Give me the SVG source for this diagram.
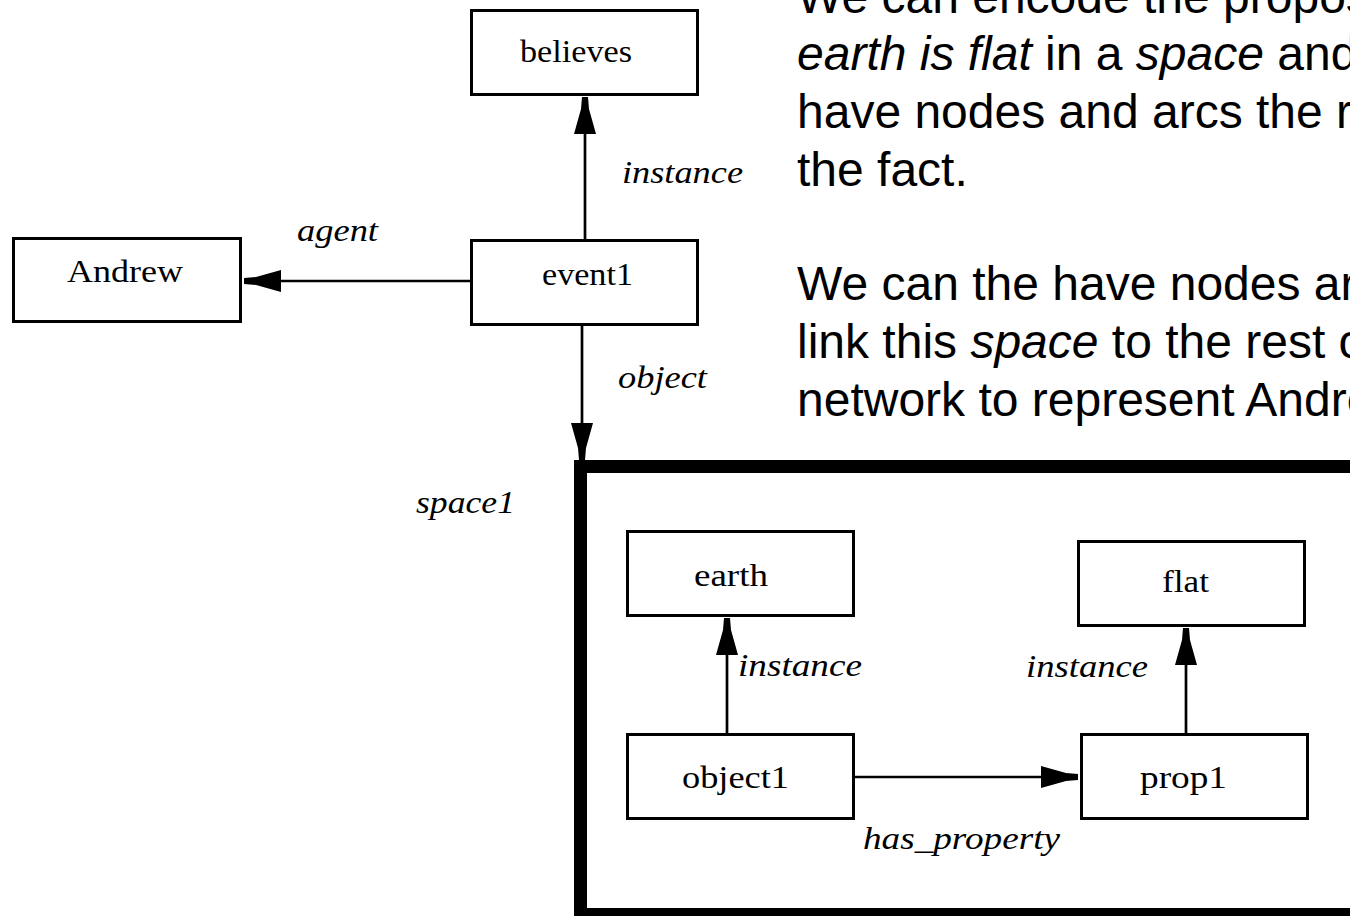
<svg xmlns="http://www.w3.org/2000/svg" width="1350" height="916" viewBox="0 0 1350 916">
<style>
  .box { fill: #fff; stroke: #000; stroke-width: 3; }
  .lbl { font-family: "Liberation Serif", "DejaVu Serif", serif; font-size: 31px; fill: #000; }
  .elbl { font-family: "Liberation Serif", "DejaVu Serif", serif; font-size: 31px; font-style: italic; fill: #000; }
  .conn { fill: none; stroke: #000; stroke-width: 2.7; marker-end: url(#head); }
  .prose { font-family: "Liberation Sans", Arial, sans-serif; font-size: 48px; fill: #000; }
  .it { font-style: italic; }
</style>
<defs>
  <marker id="head" markerUnits="userSpaceOnUse" orient="auto" refX="0" refY="0" markerWidth="40" markerHeight="24" overflow="visible">
    <path d="M0,-3 L-12,-4 L-37,-11 L-37,11 L-12,4 L0,3 Z" fill="#000"/>
  </marker>
</defs>
<rect width="1350" height="916" fill="#fff"/>

<g id="prose">
  <text class="prose" x="797" y="13">We can encode the propos</text>
  <text class="prose" x="797" y="70"><tspan class="it">earth is flat</tspan> in a <tspan class="it">space</tspan> and</text>
  <text class="prose" x="797" y="128">have nodes and arcs the r</text>
  <text class="prose" x="797" y="186">the fact.</text>
  <text class="prose" x="797" y="300">We can the have nodes ar</text>
  <text class="prose" x="797" y="358">link this <tspan class="it">space</tspan> to the rest o</text>
  <text class="prose" x="797" y="416">network to represent Andre</text>
</g>

<g id="space1">
  <rect x="580.5" y="466.5" width="900" height="448" fill="none" stroke="#000" stroke-width="13"/>
  <text class="elbl" x="416" y="513" textLength="99" lengthAdjust="spacingAndGlyphs">space1</text>
</g>

<g id="connectors">
  <path class="conn" d="M585,240 V97"/>
  <path class="conn" d="M470,281 H244"/>
  <path class="conn" d="M582,325 V460"/>
  <path class="conn" d="M727,733 V618"/>
  <path class="conn" d="M1186,733 V628"/>
  <path class="conn" d="M855,777 H1078"/>
  <text class="elbl" x="622" y="183" textLength="121" lengthAdjust="spacingAndGlyphs">instance</text>
  <text class="elbl" x="297" y="241" textLength="81" lengthAdjust="spacingAndGlyphs">agent</text>
  <text class="elbl" x="618" y="388" textLength="89" lengthAdjust="spacingAndGlyphs">object</text>
  <text class="elbl" x="738" y="676" textLength="124" lengthAdjust="spacingAndGlyphs">instance</text>
  <text class="elbl" x="1026" y="677" textLength="122" lengthAdjust="spacingAndGlyphs">instance</text>
  <text class="elbl" x="863" y="849" textLength="197" lengthAdjust="spacingAndGlyphs">has_property</text>
</g>

<g id="believes">
  <rect class="box" x="471.5" y="10.5" width="226" height="84"/>
  <text class="lbl" x="520" y="62" textLength="112" lengthAdjust="spacingAndGlyphs">believes</text>
</g>
<g id="event1">
  <rect class="box" x="471.5" y="240.5" width="226" height="84"/>
  <text class="lbl" x="542" y="285" textLength="91" lengthAdjust="spacingAndGlyphs">event1</text>
</g>
<g id="Andrew">
  <rect class="box" x="13.5" y="238.5" width="227" height="83"/>
  <text class="lbl" x="67" y="282" textLength="116" lengthAdjust="spacingAndGlyphs">Andrew</text>
</g>
<g id="earth">
  <rect class="box" x="627.5" y="531.5" width="226" height="84"/>
  <text class="lbl" x="694" y="586" textLength="74" lengthAdjust="spacingAndGlyphs">earth</text>
</g>
<g id="flat">
  <rect class="box" x="1078.5" y="541.5" width="226" height="84"/>
  <text class="lbl" x="1162" y="592" textLength="47" lengthAdjust="spacingAndGlyphs">flat</text>
</g>
<g id="object1">
  <rect class="box" x="627.5" y="734.5" width="226" height="84"/>
  <text class="lbl" x="682" y="788" textLength="107" lengthAdjust="spacingAndGlyphs">object1</text>
</g>
<g id="prop1">
  <rect class="box" x="1081.5" y="734.5" width="226" height="84"/>
  <text class="lbl" x="1140" y="788" textLength="87" lengthAdjust="spacingAndGlyphs">prop1</text>
</g>
</svg>
